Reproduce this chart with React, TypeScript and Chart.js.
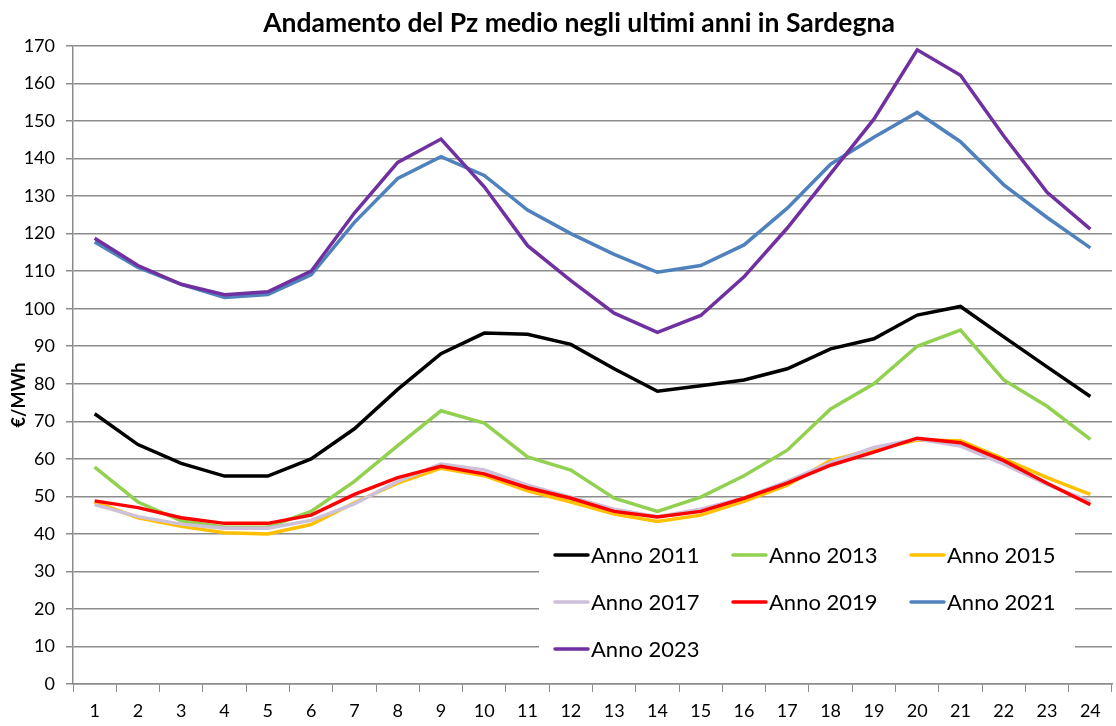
import React, { useEffect, useRef } from 'react';
import { Chart, registerables } from 'chart.js';

Chart.register(...registerables);

const TITLE = 'Andamento del Pz medio negli ultimi anni in Sardegna';
const Y_TITLE = '€/MWh';
const HOURS = ['1', '2', '3', '4', '5', '6', '7', '8', '9', '10', '11', '12', '13', '14', '15', '16', '17', '18', '19', '20', '21', '22', '23', '24'];

const anno2011 = [72, 63.8, 58.8, 55.4, 55.4, 60, 68, 78.5, 88, 93.5, 93.2, 90.5, 84, 78, 79.5, 81, 84, 89.3, 92, 98.3, 100.6, 92.5, 84.5, 76.6];
const anno2013 = [57.8, 48.5, 43.5, 41.8, 41.8, 46, 54, 63.5, 72.8, 69.5, 60.5, 57, 49.5, 46, 49.8, 55.5, 62.3, 73.3, 80, 90, 94.3, 81, 74, 65.2];
const anno2015 = [48.5, 44.3, 42, 40.3, 40, 42.5, 48.3, 53.5, 57.5, 55.5, 51.5, 48.5, 45.3, 43.3, 45, 48.7, 53, 59.6, 62.5, 65, 64.8, 60, 55, 50.5];
const anno2017 = [47.8, 44.6, 42.6, 41.5, 41.5, 43.6, 48, 54, 58.6, 57, 53, 49.8, 46.6, 44.6, 46.6, 49.6, 54, 59, 63, 65.3, 63.4, 58.6, 53.2, 48.6];
const anno2019 = [48.8, 47, 44.3, 42.8, 42.8, 45, 50.5, 55, 58, 56, 52.3, 49.5, 46, 44.5, 46, 49.5, 53.5, 58.3, 61.8, 65.5, 64.3, 59.5, 53.5, 47.8];
const anno2021 = [117.8, 111, 106.5, 103, 103.8, 109, 123, 134.7, 140.5, 135.5, 126.3, 120, 114.5, 109.7, 111.5, 117, 126.8, 138.5, 145.7, 152.3, 144.5, 133, 124.3, 116.2];
const anno2023 = [118.8, 111.5, 106.5, 103.7, 104.5, 110, 125.5, 139, 145.2, 132.5, 116.8, 107.5, 98.8, 93.7, 98.2, 108.5, 121.5, 136, 150.5, 169, 162.2, 146, 131, 121.2];

const SERIES_NAMES = ['Anno 2011', 'Anno 2013', 'Anno 2015', 'Anno 2017', 'Anno 2019', 'Anno 2021', 'Anno 2023'];
const SERIES_VALUES = [anno2011, anno2013, anno2015, anno2017, anno2019, anno2021, anno2023];
const SERIES_COLORS = ['#000000', '#92D050', '#FFC000', '#CCC0DA', '#FF0000', '#4F81BD', '#7030A0'];

const FONT = 'Lato, "Open Sans", sans-serif';

const overlayPlugin = {
  id: 'overlay',
  beforeDatasetsDraw(chart: any) {
    const ctx = chart.ctx;
    ctx.save();
    // legend box (inside plot area)
    ctx.fillStyle = '#ffffff';
    ctx.fillRect(539, 517, 536, 150);
    const colX = [555, 733, 911];
    const rowY = [555, 602, 649];
    ctx.font = `22px ${FONT}`;
    ctx.textBaseline = 'middle';
    ctx.textAlign = 'left';
    SERIES_NAMES.forEach((name, i) => {
      const x = colX[i % 3];
      const y = rowY[Math.floor(i / 3)];
      ctx.strokeStyle = SERIES_COLORS[i];
      ctx.lineWidth = 3.5;
      ctx.lineCap = 'round';
      ctx.beginPath();
      ctx.moveTo(x, y);
      ctx.lineTo(x + 33, y);
      ctx.stroke();
      ctx.fillStyle = '#000000';
      ctx.fillText(name, x + 36, y + 1);
    });
    ctx.restore();
  },
  afterDraw(chart: any) {
    const ctx = chart.ctx;
    ctx.save();
    ctx.fillStyle = '#000000';
    ctx.font = `bold 26.5px ${FONT}`;
    ctx.textAlign = 'center';
    ctx.textBaseline = 'middle';
    ctx.fillText(TITLE, 579, 23);
    ctx.translate(19, 395);
    ctx.rotate(-Math.PI / 2);
    ctx.font = `bold 18px ${FONT}`;
    ctx.fillText(Y_TITLE, 0, 0);
    ctx.restore();
  },
};

export default function App() {
  const ref = useRef<HTMLCanvasElement | null>(null);

  useEffect(() => {
    document.body.style.margin = '0';
    const canvas = ref.current;
    if (!canvas) return;
    const chart = new Chart(canvas, {
      type: 'line',
      data: {
        labels: HOURS,
        datasets: SERIES_VALUES.map((vals, i) => ({
          label: SERIES_NAMES[i],
          data: vals,
          borderColor: SERIES_COLORS[i],
          backgroundColor: SERIES_COLORS[i],
          borderWidth: 3.5,
          pointRadius: 0,
          tension: 0,
          fill: false,
          order: SERIES_NAMES.length - i,
        })),
      },
      options: {
        animation: false,
        responsive: false,
        maintainAspectRatio: false,
        layout: { padding: { left: 0, top: 46, right: 4, bottom: 0 } },
        plugins: {
          legend: { display: false },
          title: { display: false },
          tooltip: { enabled: false },
        },
        scales: {
          x: {
            type: 'category',
            offset: true,
            grid: {
              offset: true,
              drawOnChartArea: false,
              drawTicks: true,
              tickLength: 8,
              color: '#8c8c8c',
              lineWidth: 1,
            },
            border: { color: '#8c8c8c', width: 1.5 },
            ticks: {
              color: '#000000',
              font: { family: FONT, size: 18 },
              padding: 8,
              maxRotation: 0,
              autoSkip: false,
            },
            afterFit(scale: any) {
              scale.height = 42;
            },
          },
          y: {
            min: 0,
            max: 170,
            grid: {
              color: '#8c8c8c',
              lineWidth: 1.5,
              tickLength: 7,
            },
            border: { color: '#8c8c8c', width: 1.5 },
            ticks: {
              stepSize: 10,
              color: '#000000',
              font: { family: FONT, size: 18 },
              padding: 11,
            },
            afterFit(scale: any) {
              scale.width = 73;
            },
          },
        },
      },
      plugins: [overlayPlugin],
    });
    return () => chart.destroy();
  }, []);

  return <canvas ref={ref} width={1116} height={726} style={{ display: 'block' }} />;
}
